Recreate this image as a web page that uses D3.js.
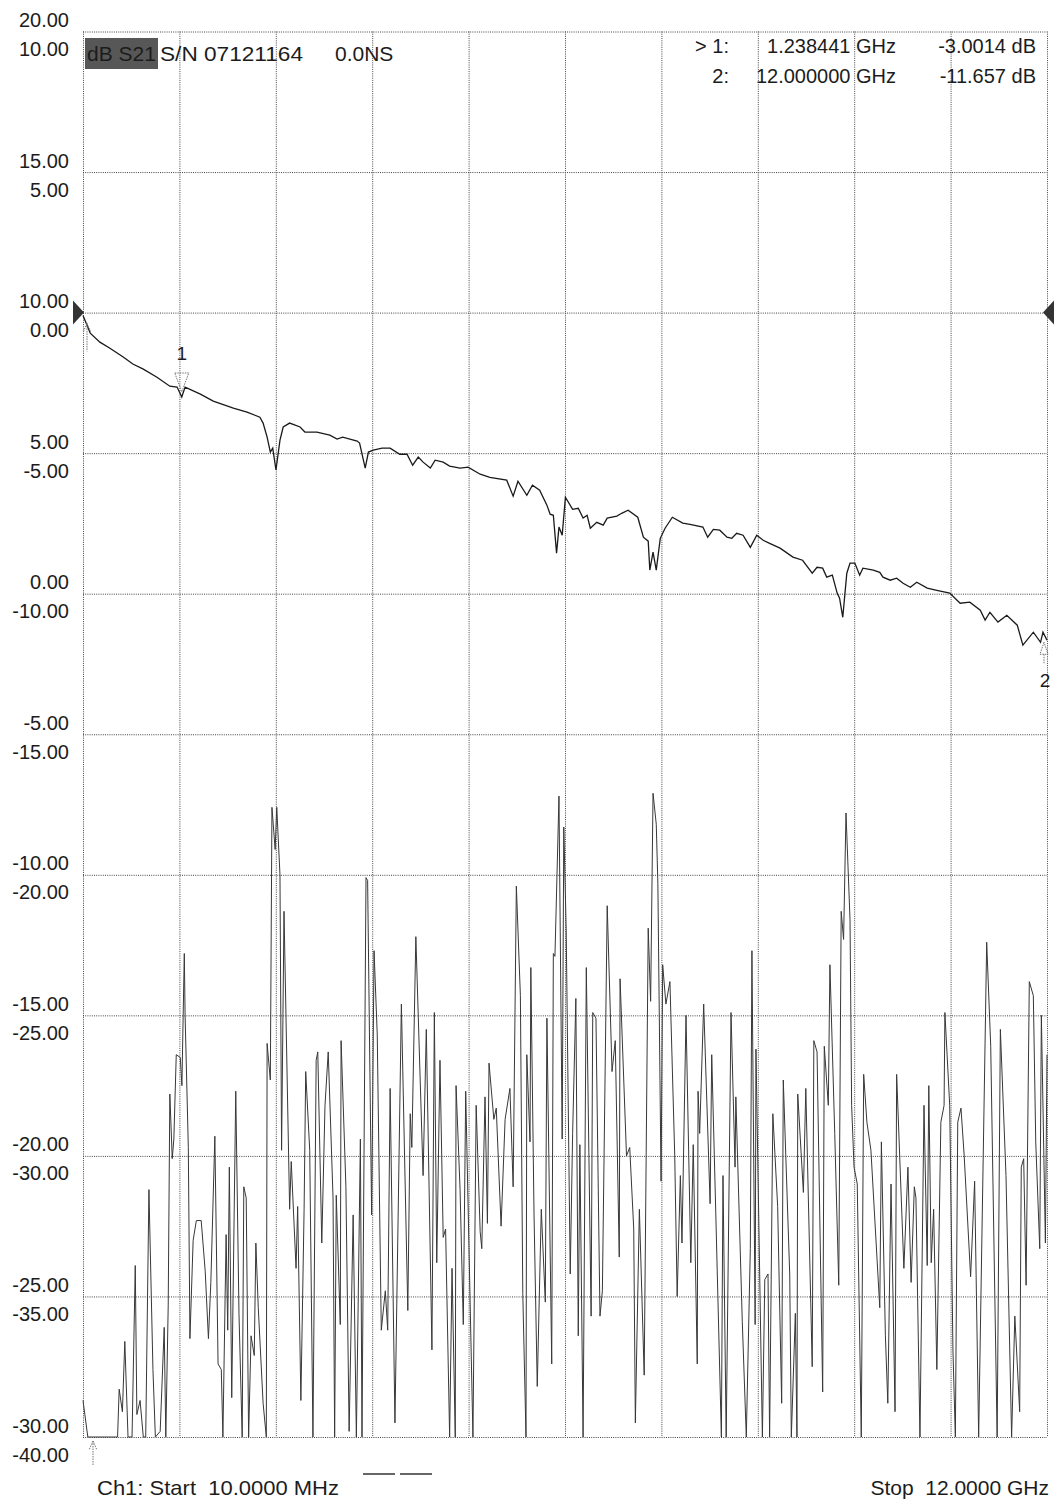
<!DOCTYPE html>
<html><head><meta charset="utf-8">
<script src="https://cdn.jsdelivr.net/npm/d3@7"></script>
<style>
body{margin:0;background:#fff}
svg{display:block;background:#fff}
text{font-family:"Liberation Sans",Arial,Helvetica,sans-serif;fill:#1c1c1c}
</style>
</head><body>
<svg id="c" width="1057" height="1505"></svg>
<script>
// ---- data (GHz, dB) ----
const s21Freq=[0.01,0.10,0.22,0.34,0.51,0.63,0.76,0.93,1.09,1.18,1.238441,1.28,1.47,1.63,1.88,2.05,2.21,2.25,2.30,2.34,2.37,2.41,2.46,2.50,2.58,2.71,2.77,2.92,3.08,3.17,3.24,3.42,3.45,3.52,3.56,3.62,3.73,3.83,3.95,4.04,4.11,4.18,4.24,4.33,4.39,4.49,4.57,4.70,4.80,4.95,5.07,5.28,5.36,5.42,5.53,5.60,5.69,5.78,5.82,5.86,5.90,5.93,5.97,6.01,6.10,6.17,6.23,6.28,6.32,6.40,6.48,6.53,6.65,6.71,6.79,6.91,6.98,7.04,7.06,7.10,7.14,7.19,7.25,7.34,7.47,7.56,7.72,7.78,7.85,7.93,8.02,8.08,8.14,8.22,8.31,8.39,8.47,8.55,8.68,8.84,8.96,9.08,9.14,9.21,9.26,9.33,9.39,9.42,9.46,9.51,9.55,9.61,9.67,9.71,9.84,9.92,9.96,10.05,10.13,10.21,10.30,10.38,10.51,10.63,10.79,10.92,11.04,11.17,11.23,11.29,11.39,11.50,11.63,11.70,11.83,11.92,11.95,12.00];
const s21dB=[-0.10,-0.73,-1.05,-1.26,-1.58,-1.83,-2.01,-2.30,-2.62,-2.65,-3.00,-2.65,-2.90,-3.15,-3.40,-3.54,-3.72,-3.93,-4.43,-4.96,-4.82,-5.60,-4.54,-4.07,-3.93,-4.07,-4.25,-4.25,-4.36,-4.50,-4.43,-4.57,-4.64,-5.53,-4.96,-4.89,-4.82,-4.82,-5.04,-5.04,-5.43,-5.14,-5.32,-5.53,-5.25,-5.32,-5.46,-5.53,-5.50,-5.75,-5.86,-5.96,-6.53,-6.00,-6.50,-6.14,-6.32,-6.85,-7.17,-7.21,-8.56,-7.63,-7.92,-6.57,-7.00,-6.96,-7.31,-7.21,-7.67,-7.46,-7.56,-7.31,-7.24,-7.14,-7.03,-7.28,-7.99,-8.13,-9.16,-8.52,-9.16,-8.03,-7.67,-7.28,-7.49,-7.53,-7.63,-7.99,-7.71,-7.74,-7.99,-8.03,-7.85,-7.92,-8.35,-7.92,-8.10,-8.21,-8.38,-8.70,-8.81,-9.27,-9.06,-9.09,-9.41,-9.34,-9.98,-10.16,-10.84,-9.27,-8.91,-8.91,-9.34,-9.09,-9.16,-9.24,-9.41,-9.52,-9.45,-9.63,-9.77,-9.59,-9.80,-9.88,-9.98,-10.34,-10.30,-10.59,-10.94,-10.66,-11.01,-10.77,-11.12,-11.83,-11.37,-11.73,-11.37,-11.657];

const s11Freq=[0.01,0.07,0.44,0.46,0.50,0.53,0.57,0.62,0.66,0.68,0.72,0.76,0.79,0.83,0.88,0.91,0.97,1.02,1.04,1.07,1.09,1.12,1.14,1.17,1.22,1.24,1.27,1.28,1.32,1.34,1.38,1.42,1.48,1.53,1.57,1.60,1.65,1.69,1.73,1.75,1.79,1.81,1.83,1.86,1.91,1.95,1.99,2.01,2.04,2.07,2.10,2.14,2.16,2.19,2.25,2.29,2.30,2.34,2.36,2.40,2.42,2.46,2.48,2.51,2.58,2.60,2.66,2.68,2.72,2.76,2.78,2.83,2.87,2.91,2.93,2.98,3.02,3.06,3.12,3.14,3.16,3.21,3.22,3.28,3.32,3.37,3.41,3.46,3.48,3.53,3.55,3.60,3.63,3.67,3.72,3.77,3.80,3.83,3.89,3.97,4.05,4.08,4.10,4.15,4.24,4.28,4.35,4.38,4.41,4.45,4.49,4.52,4.57,4.60,4.64,4.65,4.70,4.74,4.77,4.86,4.90,4.95,4.97,5.01,5.04,5.06,5.12,5.15,5.21,5.26,5.32,5.36,5.40,5.45,5.48,5.52,5.53,5.57,5.58,5.62,5.66,5.71,5.76,5.78,5.84,5.86,5.88,5.93,5.97,5.99,6.02,6.07,6.10,6.14,6.17,6.19,6.23,6.27,6.33,6.35,6.39,6.44,6.47,6.53,6.59,6.63,6.68,6.69,6.77,6.81,6.86,6.88,6.93,6.99,7.04,7.07,7.10,7.14,7.16,7.20,7.22,7.26,7.31,7.37,7.40,7.44,7.46,7.51,7.57,7.60,7.65,7.66,7.68,7.73,7.81,7.83,7.88,7.95,7.97,8.01,8.07,8.12,8.13,8.21,8.26,8.31,8.33,8.37,8.38,8.46,8.49,8.53,8.55,8.59,8.65,8.70,8.72,8.80,8.82,8.87,8.89,8.90,8.97,9.00,9.08,9.10,9.14,9.21,9.23,9.28,9.30,9.36,9.41,9.44,9.47,9.50,9.55,9.57,9.60,9.64,9.69,9.72,9.76,9.81,9.92,9.94,9.99,10.02,10.06,10.11,10.13,10.22,10.27,10.31,10.35,10.37,10.42,10.47,10.51,10.53,10.56,10.59,10.63,10.68,10.72,10.73,10.79,10.83,10.86,10.89,10.93,10.97,11.05,11.10,11.15,11.25,11.30,11.38,11.42,11.49,11.56,11.60,11.66,11.68,11.71,11.74,11.78,11.83,11.86,11.91,11.93,11.98,12.00];
const s11dB=[-28.7,-30,-30,-28.3,-29.1,-26.6,-30,-30,-23.9,-29.2,-28.7,-30,-30,-21.2,-27.6,-30,-29.8,-26.1,-30,-25.3,-17.8,-20.1,-19.4,-16.4,-16.5,-17.5,-12.8,-15.0,-19.7,-26.5,-23.0,-22.3,-22.3,-24.1,-26.5,-24.5,-19.3,-27.4,-27.6,-30,-22.8,-26.2,-20.4,-28.6,-17.7,-25.6,-30,-21.1,-21.5,-30,-26.4,-27.1,-23.1,-25.4,-28.8,-30,-16.0,-17.3,-7.6,-9.1,-7.6,-10.0,-19.8,-11.3,-21.9,-20.2,-24.0,-21.8,-28.7,-21.9,-17.0,-19.8,-30,-16.6,-16.3,-23.1,-18.2,-16.3,-21.5,-30,-21.4,-26.0,-15.9,-21.1,-29.8,-22.1,-30,-19.4,-30,-10.1,-10.2,-22.1,-12.7,-15.7,-26.2,-24.8,-26.2,-17.6,-29.5,-14.6,-25.5,-18.5,-19.7,-12.2,-20.7,-15.5,-26.9,-14.9,-23.8,-16.6,-22.9,-22.6,-30,-24.0,-30,-17.5,-21.2,-26.0,-17.7,-30,-18.2,-22.7,-23.3,-17.9,-22.4,-16.7,-18.7,-18.3,-22.5,-18.7,-17.6,-21.1,-10.4,-14.3,-24.9,-30,-16.4,-19.5,-13.3,-22.1,-28.2,-21.9,-25.2,-15.1,-27.4,-12.8,-12.9,-7.2,-19.4,-8.3,-12.0,-24.2,-19.2,-14.4,-26.4,-19.6,-30,-13.3,-25.7,-14.9,-15.1,-25.7,-24.8,-11.1,-17.0,-15.9,-23.6,-13.7,-20.0,-19.7,-22.6,-29.5,-21.9,-27.8,-11.9,-14.5,-7.1,-8.2,-10.3,-20.9,-13.2,-14.6,-13.8,-20.0,-25.0,-20.7,-23.1,-15.0,-23.8,-19.6,-27.4,-17.7,-19.2,-14.6,-21.7,-16.4,-22.0,-30,-20.7,-30,-14.9,-20.4,-17.9,-25.9,-30,-23.3,-12.7,-26.0,-16.2,-30,-24.4,-24.2,-30,-18.5,-21.8,-28.8,-17.3,-24.2,-30,-25.6,-30,-17.8,-21.3,-17.6,-27.5,-15.9,-16.3,-28.4,-16.1,-18.2,-13.2,-19.2,-24.6,-11.3,-12.3,-7.8,-11.6,-18.2,-20.4,-21.0,-30,-17.1,-18.8,-19.8,-25.4,-19.5,-26.4,-28.8,-21.0,-29.1,-17.1,-24.0,-20.4,-24.5,-21.1,-21.5,-30,-18.2,-23.9,-17.5,-23.8,-21.9,-27.6,-18.8,-18.2,-14.9,-18.2,-26.9,-30,-18.8,-18.3,-20.0,-24.3,-20.9,-30,-12.4,-16.1,-30,-15.5,-20.7,-30,-25.7,-29.1,-20.4,-20.1,-24.6,-13.8,-14.3,-19.5,-23.3,-15.0,-23.1,-16.4];

const scaleATicks=[20,15,10,5,0,-5,-10,-15,-20,-25,-30];   // upper label of each pair
const scaleBTicks=[10,5,0,-5,-10,-15,-20,-25,-30,-35,-40]; // lower label of each pair (S21)
const markerIds=["1","2"];
const markerFreq=[1.238441,12.0];
const markerdB=[-3.0014,-11.657];
const markerFreqText=["1.238441 GHz","12.000000 GHz"];
const markerdBText=["-3.0014 dB","-11.657 dB"];
const startFreq=0.01, stopFreq=12.0, refLevel=0;

// ---- layout ----
const L=83,R=1047,T=31.5,B=1437;
const svg=d3.select("#c");
const x=d3.scaleLinear().domain([startFreq,stopFreq]).range([L,R]);
const yA=d3.scaleLinear().domain([-30,20]).range([B,T]).clamp(true);
const yB=d3.scaleLinear().domain([-40,10]).range([B,T]).clamp(true);
const gridFreq=d3.range(11).map(i=>startFreq+i*(stopFreq-startFreq)/10);
const fmt=d=>d.toFixed(2);

// horizontal grid + upper labels
const gA=svg.append("g").attr("transform",`translate(${L},0)`)
  .call(d3.axisLeft(yA).tickValues(scaleATicks).tickFormat(fmt).tickSize(-(R-L)).tickPadding(14));
gA.select(".domain").remove();
gA.selectAll("line").attr("stroke","#444").attr("stroke-dasharray","1,1.2").attr("stroke-width",1);
gA.selectAll("text").attr("dy",null).attr("y",-5).attr("font-size",20).attr("fill","#1c1c1c")
  .style("font-family",'"Liberation Sans",Arial,sans-serif');

// lower labels
const gB=svg.append("g").attr("transform",`translate(${L},0)`)
  .call(d3.axisLeft(yB).tickValues(scaleBTicks).tickFormat(fmt).tickSize(0).tickPadding(14));
gB.select(".domain").remove();
gB.selectAll("text").attr("dy",null).attr("y",24).attr("font-size",20).attr("fill","#1c1c1c")
  .style("font-family",'"Liberation Sans",Arial,sans-serif');

// vertical grid
const gX=svg.append("g").attr("transform",`translate(0,${T})`)
  .call(d3.axisTop(x).tickValues(gridFreq).tickFormat("").tickSize(-(B-T)));
gX.select(".domain").remove();
gX.selectAll("line").attr("stroke","#444").attr("stroke-dasharray","1,1.2").attr("stroke-width",1);

// traces
const lineA=d3.line().x(d=>x(d[0])).y(d=>yA(d[1]));
const lineB=d3.line().x(d=>x(d[0])).y(d=>yB(d[1]));
svg.append("path").datum(d3.zip(s11Freq,s11dB)).attr("d",lineA)
  .attr("fill","none").attr("stroke","#383838").attr("stroke-width",1).attr("stroke-linejoin","miter");
svg.append("path").datum(d3.zip(s21Freq,s21dB)).attr("d",lineB)
  .attr("fill","none").attr("stroke","#1a1a1a").attr("stroke-width",1.3);

// reference level triangles
const ry=yB(refLevel);
svg.append("path").attr("d",`M${L-10},${ry-12}L${L+1},${ry}L${L-10},${ry+12}Z`).attr("fill","#333");
svg.append("path").attr("d",`M${R+7},${ry-12}L${R-4},${ry}L${R+7},${ry+12}Z`).attr("fill","#333");

// markers
const mk=svg.append("g").attr("fill","none").attr("stroke","#777").attr("stroke-dasharray","1.5,1").attr("stroke-width",1);
{
  const mx=x(markerFreq[0]), my=yB(markerdB[0]);
  mk.append("path").attr("d",`M${mx-7},${my-24}L${mx+7},${my-24}L${mx},${my-5}Z`);
  svg.append("text").attr("x",mx).attr("y",my-37).attr("text-anchor","middle").attr("font-size",19).attr("fill","#555").text(markerIds[0]);
  const m2x=x(markerFreq[1]), m2y=yB(markerdB[1]);
  mk.append("path").attr("d",`M${m2x-3},${m2y+2}L${m2x-7},${m2y+14}L${m2x+1},${m2y+14}Z M${m2x-3},${m2y+14}L${m2x-3},${m2y+24}`);
  svg.append("text").attr("x",m2x-2).attr("y",m2y+47).attr("text-anchor","middle").attr("font-size",19).attr("fill","#333").text(markerIds[1]);
}
// start stimulus arrows
function upArrow(px,py,len){
  mk.append("path").attr("d",`M${px},${py}L${px-4},${py+9}M${px},${py}L${px+4},${py+9}M${px},${py}L${px},${py+len}`);
}
upArrow(x(startFreq)+4,yB(s21dB[0])+8,28);
upArrow(x(startFreq)+10,B+4,24);

// header
svg.append("rect").attr("x",85).attr("y",38).attr("width",73).attr("height",31).attr("fill","#575757");
svg.append("text").attr("x",87).attr("y",61).attr("font-size",21).attr("fill","#141414").text("dB S21");
svg.append("text").attr("x",160).attr("y",61).attr("font-size",21).attr("textLength",143).attr("lengthAdjust","spacingAndGlyphs").text("S/N 07121164");
svg.append("text").attr("x",335).attr("y",61).attr("font-size",21).text("0.0NS");
svg.append("text").attr("x",729).attr("y",53).attr("font-size",20).attr("text-anchor","end").text("> "+markerIds[0]+":");
svg.append("text").attr("x",729).attr("y",83).attr("font-size",20).attr("text-anchor","end").text(markerIds[1]+":");
markerFreqText.forEach((t,i)=>svg.append("text").attr("x",896).attr("y",53+30*i).attr("font-size",20).attr("text-anchor","end").text(t));
markerdBText.forEach((t,i)=>svg.append("text").attr("x",1036).attr("y",53+30*i).attr("font-size",20).attr("text-anchor","end").text(t));

// footer
svg.append("text").attr("x",97).attr("y",1495).attr("font-size",21).style("white-space","pre")
  .attr("textLength",242).attr("lengthAdjust","spacingAndGlyphs").text("Ch1: Start  10.0000 MHz");
svg.append("text").attr("x",1049).attr("y",1495).attr("font-size",21).attr("text-anchor","end").style("white-space","pre").text("Stop  12.0000 GHz");
svg.append("line").attr("x1",363).attr("x2",395).attr("y1",1474).attr("y2",1474).attr("stroke","#333").attr("stroke-width",1.5);
svg.append("line").attr("x1",400).attr("x2",432).attr("y1",1474).attr("y2",1474).attr("stroke","#333").attr("stroke-width",1.5);
</script>
</body></html>
